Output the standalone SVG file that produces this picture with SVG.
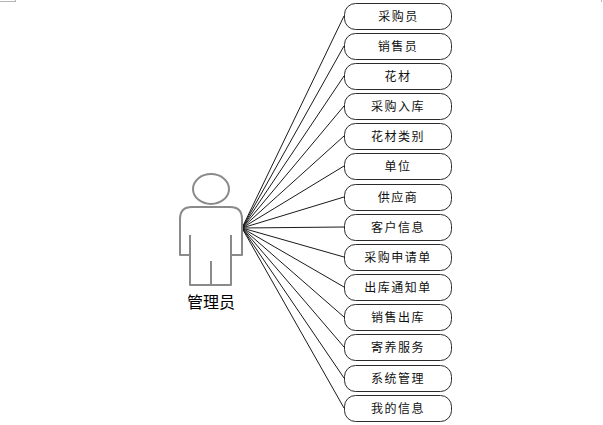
<svg xmlns="http://www.w3.org/2000/svg" width="603" height="425" viewBox="0 0 603 425">
<style>
.n{fill:#fff;stroke:#2b2b2b;stroke-width:1}
.t{font-family:"Noto Sans CJK SC","Noto Sans",sans-serif;font-size:12px;fill:#111;text-anchor:middle;letter-spacing:1.500px}
.c line{stroke:#1a1a1a;stroke-width:1}
.a{fill:#fff;stroke:#8a8a8a;stroke-width:2;stroke-linejoin:round}
.m{fill:#b5b5b5}
</style>
<rect width="603" height="425" fill="#fff"/>
<rect class="m" x="0" y="1" width="15" height="1"/>
<rect class="m" x="15" y="0" width="1" height="2"/>
<rect class="m" x="601" y="0" width="1" height="2"/>
<g id="connectors" class="c">
<line x1="242" y1="228" x2="344" y2="16"/>
<line x1="242" y1="228" x2="344" y2="46"/>
<line x1="242" y1="228" x2="344" y2="76"/>
<line x1="242" y1="228" x2="344" y2="106"/>
<line x1="242" y1="228" x2="344" y2="136"/>
<line x1="242" y1="228" x2="344" y2="166"/>
<line x1="242" y1="228" x2="344" y2="197"/>
<line x1="242" y1="228" x2="344" y2="227"/>
<line x1="242" y1="228" x2="344" y2="257"/>
<line x1="242" y1="228" x2="344" y2="287"/>
<line x1="242" y1="228" x2="344" y2="317"/>
<line x1="242" y1="228" x2="344" y2="347"/>
<line x1="242" y1="228" x2="344" y2="378"/>
<line x1="242" y1="228" x2="344" y2="408"/>
</g>
<g id="actor">
<ellipse class="a" cx="211" cy="189" rx="18" ry="15"/>
<path class="a" d="M190 255H180V219Q180 207 192 207H230Q242 207 242 219V255H231V285H190Z"/>
<path class="a" fill="none" d="M190 235V255M231 235V255M211 261V285"/>
<text x="211" y="308" style="font-family:'Noto Sans CJK SC',sans-serif;font-size:16px;fill:#000;text-anchor:middle">管理员</text>
</g>
<g id="n1"><rect class="n" x="344.500" y="3.500" width="107" height="26" rx="11"/><text class="t" x="398.500" y="21">采购员</text></g>
<g id="n2"><rect class="n" x="344.500" y="33.500" width="107" height="26" rx="11"/><text class="t" x="398" y="51">销售员</text></g>
<g id="n3"><rect class="n" x="344.500" y="63.500" width="107" height="26" rx="11"/><text class="t" x="398" y="81">花材</text></g>
<g id="n4"><rect class="n" x="344.500" y="93.500" width="107" height="26" rx="11"/><text class="t" x="398" y="111">采购入库</text></g>
<g id="n5"><rect class="n" x="344.500" y="123.500" width="107" height="26" rx="11"/><text class="t" x="398" y="141">花材类别</text></g>
<g id="n6"><rect class="n" x="344.500" y="153.500" width="107" height="26" rx="11"/><text class="t" x="398" y="171">单位</text></g>
<g id="n7"><rect class="n" x="344.500" y="184.500" width="107" height="26" rx="11"/><text class="t" x="398" y="202">供应商</text></g>
<g id="n8"><rect class="n" x="344.500" y="214.500" width="107" height="26" rx="11"/><text class="t" x="398" y="232">客户信息</text></g>
<g id="n9"><rect class="n" x="344.500" y="244.500" width="107" height="26" rx="11"/><text class="t" x="398" y="262">采购申请单</text></g>
<g id="n10"><rect class="n" x="344.500" y="274.500" width="107" height="26" rx="11"/><text class="t" x="398" y="292">出库通知单</text></g>
<g id="n11"><rect class="n" x="344.500" y="304.500" width="107" height="26" rx="11"/><text class="t" x="398" y="322">销售出库</text></g>
<g id="n12"><rect class="n" x="344.500" y="334.500" width="107" height="26" rx="11"/><text class="t" x="398" y="352">寄养服务</text></g>
<g id="n13"><rect class="n" x="344.500" y="365.500" width="107" height="26" rx="11"/><text class="t" x="398" y="383">系统管理</text></g>
<g id="n14"><rect class="n" x="344.500" y="395.500" width="107" height="26" rx="11"/><text class="t" x="398" y="413">我的信息</text></g>
</svg>
